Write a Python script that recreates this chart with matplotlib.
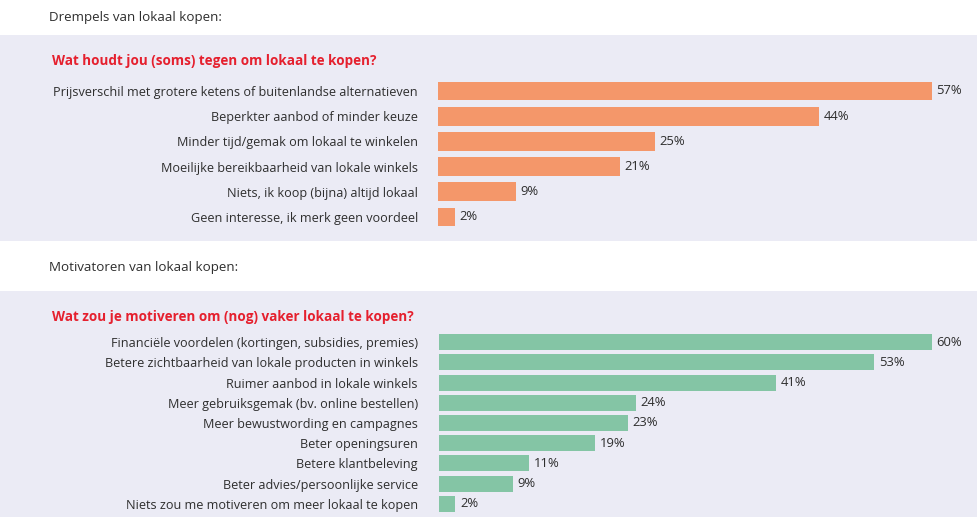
import matplotlib
matplotlib.use("Agg")
import matplotlib.pyplot as plt
from matplotlib.patches import Rectangle

W, H = 978, 517
plt.rcParams['font.family'] = ['Open Sans', 'DejaVu Sans']
fig = plt.figure(figsize=(W / 100, H / 100), dpi=100)

# data
drempels = [
    "Prijsverschil met grotere ketens of buitenlandse alternatieven",
    "Beperkter aanbod of minder keuze",
    "Minder tijd/gemak om lokaal te winkelen",
    "Moeilijke bereikbaarheid van lokale winkels",
    "Niets, ik koop (bijna) altijd lokaal",
    "Geen interesse, ik merk geen voordeel",
]
drempels_pct = [57, 44, 25, 21, 9, 2]

motivatoren = [
    "Financiële voordelen (kortingen, subsidies, premies)",
    "Betere zichtbaarheid van lokale producten in winkels",
    "Ruimer aanbod in lokale winkels",
    "Meer gebruiksgemak (bv. online bestellen)",
    "Meer bewustwording en campagnes",
    "Beter openingsuren",
    "Betere klantbeleving",
    "Beter advies/persoonlijke service",
    "Niets zou me motiveren om meer lokaal te kopen",
]
motivatoren_pct = [60, 53, 41, 24, 23, 19, 11, 9, 2]

BG = "#ebebf5"
ORANJE = "#f4976a"
GROEN = "#84c5a5"
ROOD = "#e5202e"
TEKST = "#2e2e2e"


def fx(x):
    return x / W


def fy(y):
    # y in pixels vanaf boven
    return 1 - y / H


# achtergrond met grijze banden
bg = fig.add_axes([0, 0, 1, 1], zorder=-5)
bg.set_xlim(0, W)
bg.set_ylim(H, 0)
bg.axis("off")
bg.add_patch(Rectangle((0, 35), W, 241 - 35, facecolor=BG, edgecolor="none"))
bg.add_patch(Rectangle((0, 291), W, H - 291, facecolor=BG, edgecolor="none"))

fig.text(fx(49), fy(18), "Drempels van lokaal kopen:", fontsize=9.6, color=TEKST, va="center")
fig.text(fx(49), fy(268), "Motivatoren van lokaal kopen:", fontsize=9.6, color=TEKST, va="center")
fig.text(fx(52), fy(61), "Wat houdt jou (soms) tegen om lokaal te kopen?", fontsize=9.75,
         fontweight="bold", color=ROOD, va="center")
fig.text(fx(52), fy(317), "Wat zou je motiveren om (nog) vaker lokaal te kopen?", fontsize=9.75,
         fontweight="bold", color=ROOD, va="center")


def paneel(labels, vals, kleur, left, width, top, bottom, hoogte):
    ax = fig.add_axes([fx(left), fy(bottom), width / W, (bottom - top) / H])
    ax.patch.set_alpha(0)
    y = list(range(len(vals)))
    ax.barh(y, vals, height=hoogte, color=kleur)
    ax.set_ylim(len(vals) - 0.5, -0.5)
    ax.set_xlim(0, max(vals))
    ax.set_yticks(y)
    ax.set_yticklabels(labels, fontsize=9.1, color=TEKST)
    ax.tick_params(axis="y", length=0, pad=(left - 418) * 0.72)
    ax.set_xticks([])
    for s in ax.spines.values():
        s.set_visible(False)
    for yi, v in zip(y, vals):
        ax.annotate(f"{v}%", (v, yi), xytext=(3.2, 0), textcoords="offset points",
                    va="center", ha="left", fontsize=9.4, color=TEKST, annotation_clip=False)
    return ax


paneel(drempels, drempels_pct, ORANJE, 438, 494, 78.4, 229.6, 0.75)
paneel(motivatoren, motivatoren_pct, GROEN, 439, 493, 331.9, 514.1, 0.79)

fig.savefig("out.png", dpi=100, facecolor="white")
